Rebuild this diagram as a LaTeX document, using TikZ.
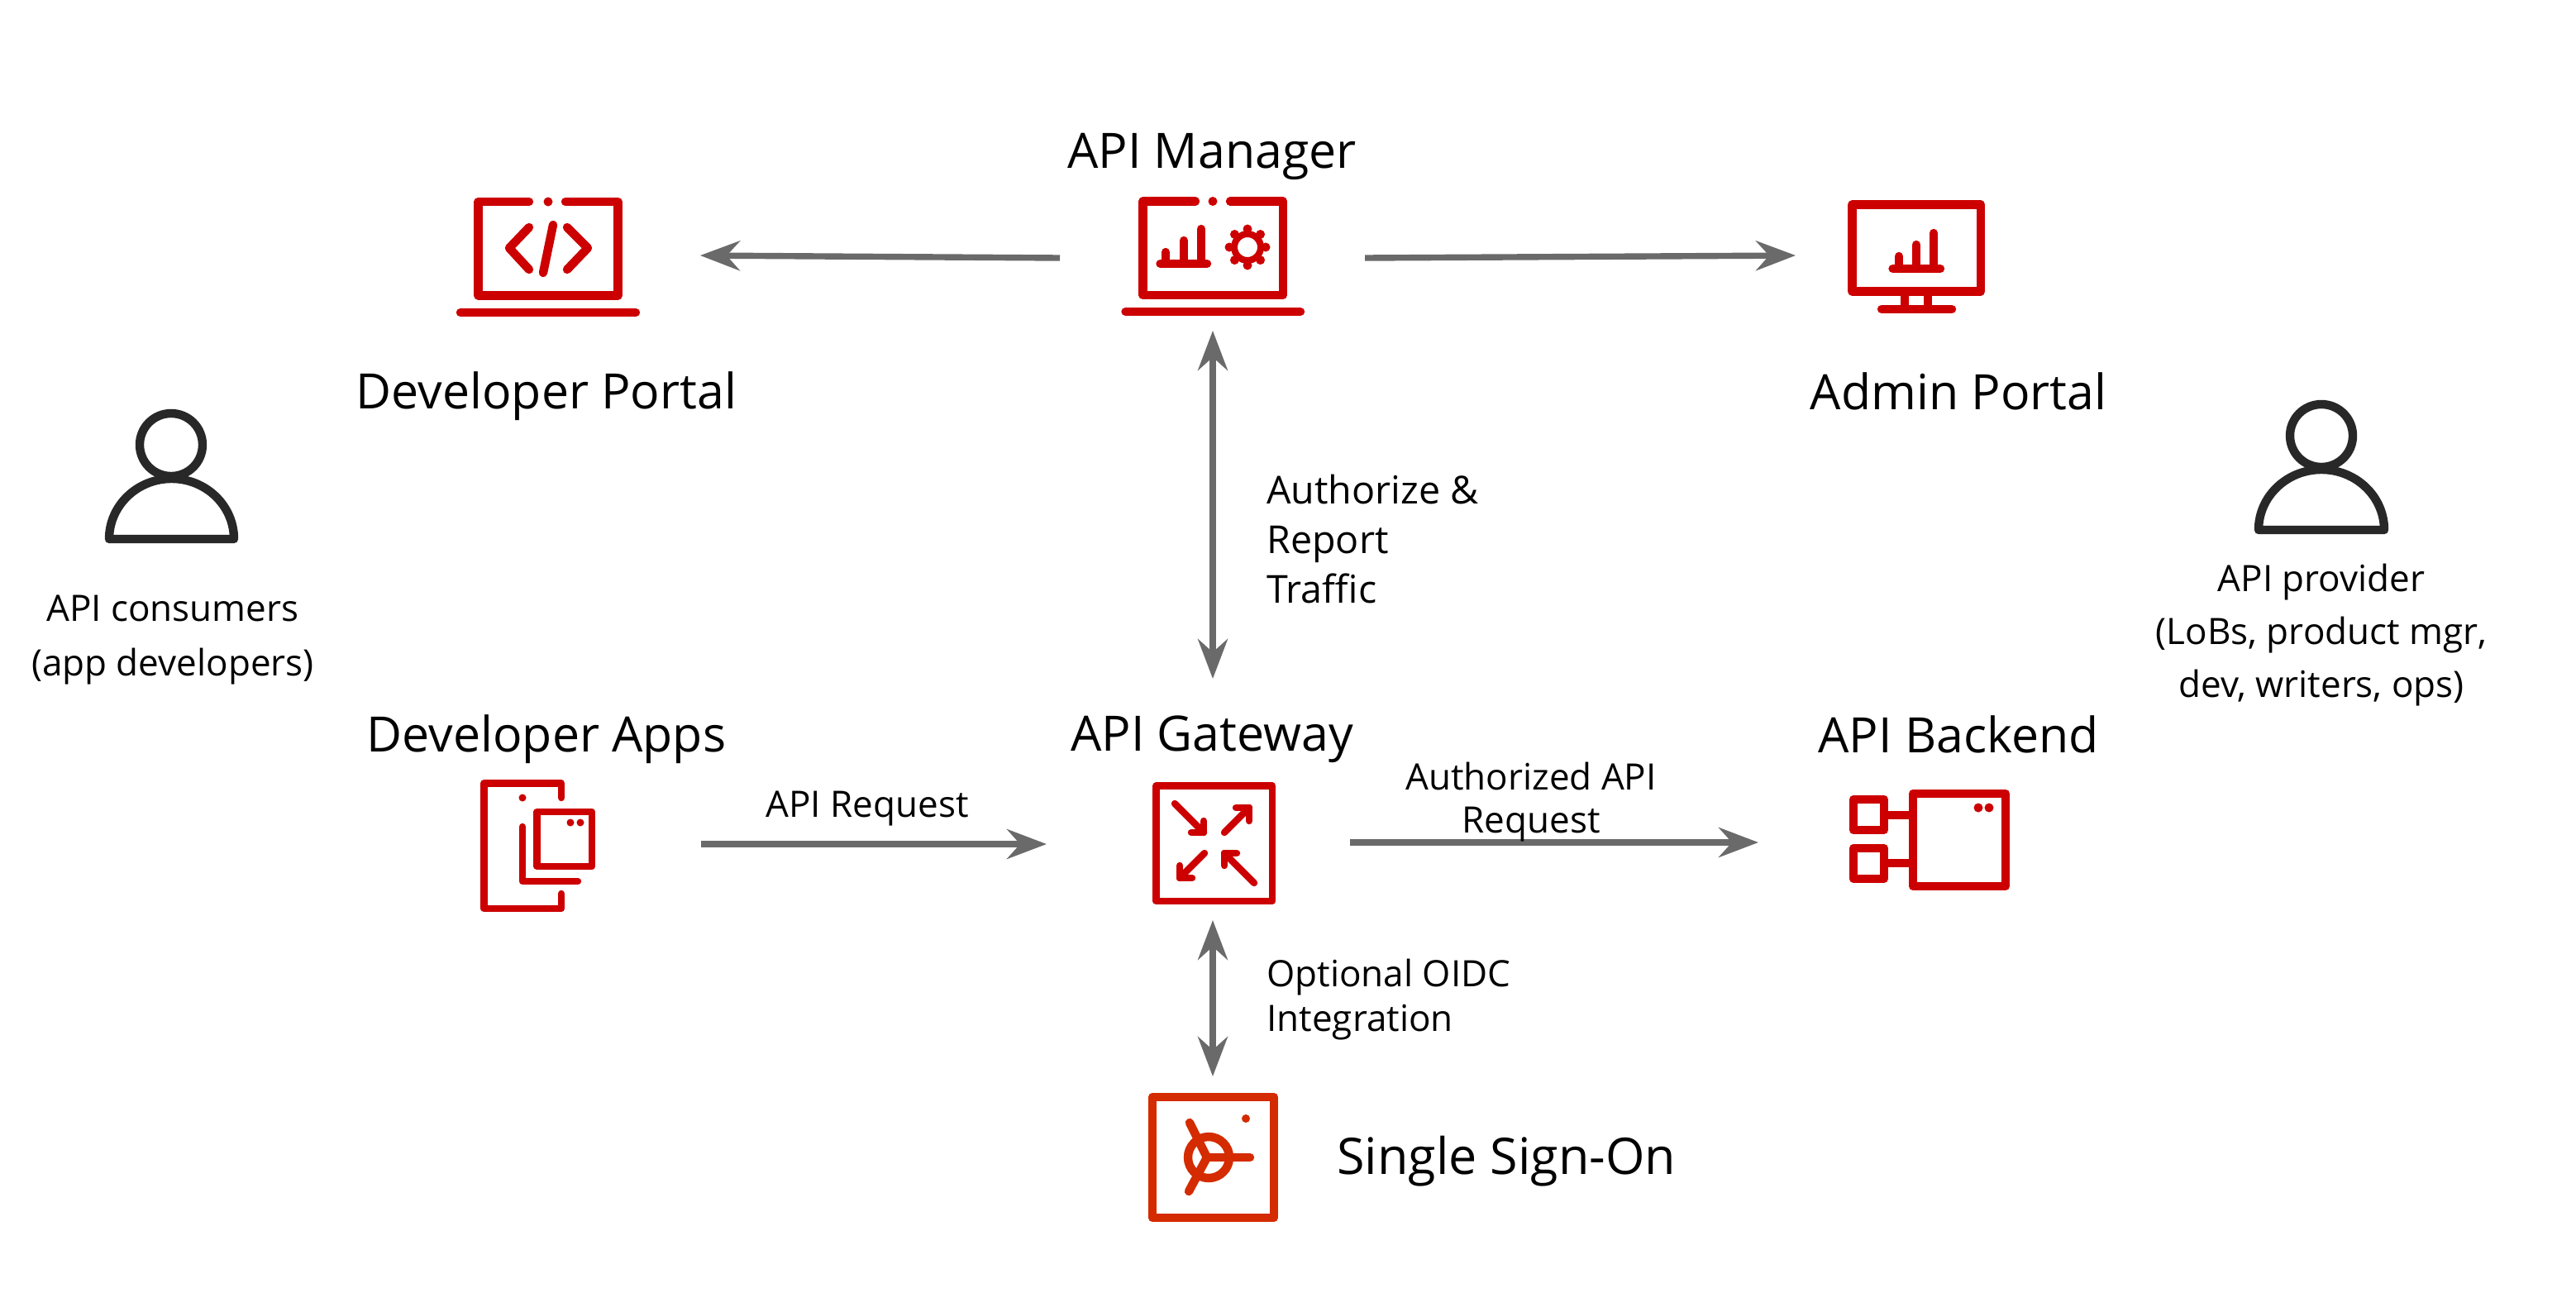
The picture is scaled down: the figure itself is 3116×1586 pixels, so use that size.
\documentclass[tikz,border=0pt]{standalone}
\usepackage{fontspec}
\setmainfont{Open Sans}
\usetikzlibrary{arrows.meta}
\definecolor{rhred}{HTML}{CC0000}
\definecolor{ssored}{HTML}{D42B00}
\definecolor{ink}{HTML}{282828}
\definecolor{arrowgray}{HTML}{6A6A6A}
\tikzset{
 icon/.style={draw=rhred,line width=5.2pt,line cap=round,line join=round},
 iconthin/.style={icon,line width=4.2pt},
 ssoicon/.style={icon,draw=ssored},
 person/.style={draw=ink,line width=5.2pt,line cap=round,line join=round},
 link/.style={draw=arrowgray,line width=3.7pt,-{Stealth[length=24pt,width=18pt,inset=8pt]}},
 biglink/.style={draw=arrowgray,line width=3.7pt,{Stealth[length=24pt,width=18pt,inset=8pt]}-{Stealth[length=24pt,width=18pt,inset=8pt]}},
 title/.style={font=\fontsize{29.5}{34}\selectfont,text=black,inner sep=0pt},
 smalllabel/.style={font=\fontsize{22}{26}\selectfont,text=black,inner sep=0pt},
}
\begin{document}
\begin{tikzpicture}[x=0.5pt,y=-0.5pt]
\useasboundingbox (0,0) rectangle (3116,1586);
% Developer portal
\draw[icon] (640,244) -- (578.5,244) -- (578.5,357.5) -- (747.5,357.5) -- (747.5,244) -- (684,244);
\fill[rhred] (663,244) circle[radius=5.5];
\draw[icon] (557,378) -- (769,378);
\draw[icon] (640,275) -- (616,300) -- (640,326);
\draw[icon] (686,275) -- (711,300) -- (686,326);
\draw[icon] (669,272) -- (657,330);
% API manager
\draw[icon] (1446,243.5) -- (1382.5,243.5) -- (1382.5,357) -- (1552,357) -- (1552,243.5) -- (1488,243.5);
\fill[rhred] (1467,243.5) circle[radius=5.5];
\draw[icon] (1361.5,377) -- (1573,377);
\draw[icon] (1403.5,319) -- (1460,319);
\draw[icon] (1410,319) -- (1410,305);
\draw[icon] (1432,319) -- (1432,291);
\draw[icon] (1453,319) -- (1453,277);
\draw[icon,line width=4pt] (1509,299) circle[radius=16];
\foreach \a in {0,45,...,315}
  \fill[rhred] (1509,299) ++(\a:22) circle[radius=5.5];
% Admin portal
\draw[icon] (2240.5,247.5) rectangle (2396,352.5);
\draw[icon] (2276,374) -- (2361,374);
\draw[icon,line cap=butt] (2304,352) -- (2304,374);
\draw[icon,line cap=butt] (2332,352) -- (2332,374);
\draw[icon] (2289.5,325) -- (2347,325);
\draw[icon] (2297,325) -- (2297,310);
\draw[icon] (2318,325) -- (2318,296);
\draw[icon] (2339,325) -- (2339,282);
% Developer apps
\draw[iconthin] (679,965) -- (679,947.5) -- (585.5,947.5) -- (585.5,1099) -- (679,1099) -- (679,1081);
\fill[rhred] (632,965) circle[radius=4.5];
\draw[iconthin] (632,1000) -- (632,1066) -- (699,1066);
\draw[iconthin] (649.5,982) rectangle (716,1048);
\fill[rhred] (690,995) circle[radius=4.5] (702,995) circle[radius=4.5];
% API gateway
\draw[iconthin] (1398.5,950.5) rectangle (1539,1090);
\draw[iconthin] (1421,972) -- (1456,1007);
\draw[iconthin] (1456,993) -- (1456,1007) -- (1441,1007);
\draw[iconthin] (1481,1007) -- (1511,977);
\draw[iconthin] (1511,993) -- (1511,977) -- (1495,977);
\draw[iconthin] (1457,1032) -- (1427,1062);
\draw[iconthin] (1427,1047) -- (1427,1062) -- (1442,1062);
\draw[iconthin] (1517,1068) -- (1481,1032);
\draw[iconthin] (1481,1047) -- (1481,1032) -- (1496,1032);
% API backend
\draw[icon] (2314,960) rectangle (2426,1072);
\draw[icon] (2242,967) rectangle (2279,1004);
\draw[icon] (2242,1026) rectangle (2279,1063);
\draw[icon,line cap=butt] (2284,986) -- (2309,986);
\draw[icon,line cap=butt] (2284,1044) -- (2309,1044);
\fill[rhred] (2393,977) circle[radius=5.5] (2406,977) circle[radius=5.5];
% Single sign-on
\draw[ssoicon] (1394,1327) rectangle (1541,1473);
\fill[ssored] (1507,1353) circle[radius=5];
\draw[ssoicon] (1462,1400) circle[radius=25];
\draw[ssoicon] (1439,1358) -- (1460,1400) -- (1438,1441);
\draw[ssoicon] (1460,1400) -- (1512,1400);
% People
\draw[person] (207,538) circle[radius=38];
\draw[person] (132,652) arc[start angle=180,end angle=360,x radius=75.5,y radius=73] -- cycle;
\draw[person] (2808,527) circle[radius=38];
\draw[person] (2732,641) arc[start angle=180,end angle=360,x radius=76,y radius=73] -- cycle;
% Anchors
\coordinate (mgrL) at (1282,312);
\coordinate (devpR) at (847,309);
\coordinate (mgrR) at (1651,312);
\coordinate (admL) at (2172,309);
\coordinate (mgrB) at (1467,400);
\coordinate (gwT) at (1467,821);
\coordinate (appsR) at (848,1021);
\coordinate (gwL) at (1266,1021);
\coordinate (gwR) at (1633,1019);
\coordinate (backL) at (2127,1019);
\coordinate (gwB) at (1467,1113);
\coordinate (ssoT) at (1467,1302);
\draw[link] (mgrL) -- (devpR);
\draw[link] (mgrR) -- (admL);
\draw[biglink] (mgrB) -- (gwT);
\draw[link] (appsR) -- (gwL);
\draw[link] (gwR) -- (backL);
\draw[biglink] (gwB) -- (ssoT);
% Labels
\node[title] (tMgr) at (1466,189) {API Manager};
\node[title] (tDev) at (661,479) {Developer Portal};
\node[title] (tAdm) at (2369,473) {Admin Portal};
\node[title] (tApps) at (661,894) {Developer Apps};
\node[title] (tGw) at (1466,894) {API Gateway};
\node[title] (tBack) at (2369,888) {API Backend};
\node[title,anchor=west,font=\fontsize{30.5}{34}\selectfont] (tSso) at (1617,1405) {Single Sign-On};
\node[smalllabel,align=left,anchor=west,font=\fontsize{23.3}{30}\selectfont] (lAuth) at (1532,652) {Authorize \&\\Report\\Traffic};
\node[smalllabel] (lReq) at (1049,978) {API Request};
\node[smalllabel,align=center,font=\fontsize{22}{26}\selectfont] (lAuthReq) at (1852,970) {Authorized API\\Request};
\node[smalllabel,align=left,anchor=west,font=\fontsize{22}{27}\selectfont] (lOidc) at (1532,1209) {Optional OIDC\\Integration};
\node[smalllabel,align=center,font=\fontsize{22}{33}\selectfont] (lCons) at (209,774) {API consumers\\(app developers)};
\node[smalllabel,align=center,font=\fontsize{22}{32}\selectfont] (lProv) at (2808,768) {API provider\\(LoBs, product mgr,\\dev, writers, ops)};
\end{tikzpicture}
\end{document}
